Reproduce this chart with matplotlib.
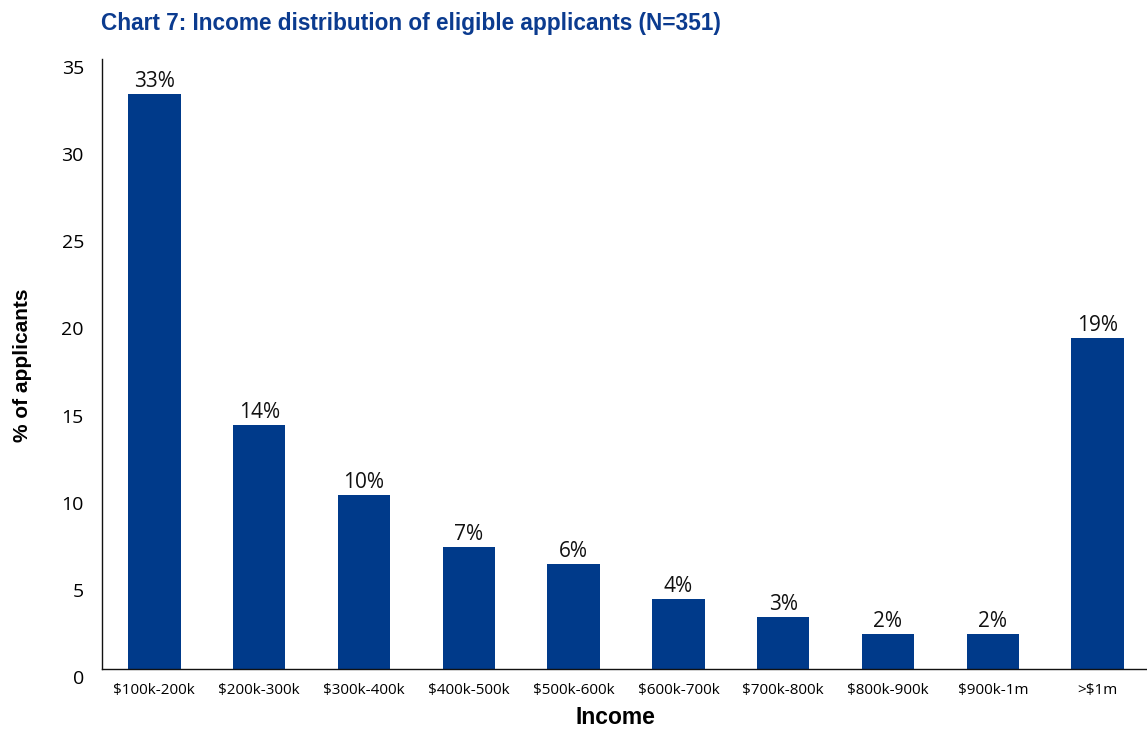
import matplotlib
matplotlib.use("Agg")
import matplotlib.pyplot as plt
from matplotlib.transforms import ScaledTranslation

# Income bands and share of eligible applicants (%)
income_bands = ["$100k-200k", "$200k-300k", "$300k-400k", "$400k-500k", "$500k-600k",
                "$600k-700k", "$700k-800k", "$800k-900k", "$900k-1m", ">$1m"]
pct_applicants = [33, 14, 10, 7, 6, 4, 3, 2, 2, 19]

bar_color = "#003a8a"
title_color = "#0b3b8f"

fig = plt.figure(figsize=(11.47, 7.30), dpi=100)
ax = fig.add_axes([0.0889, 0.0836, 0.9137, 0.8356])

x = range(len(income_bands))
bars = ax.bar(x, pct_applicants, width=0.5, color=bar_color)

# value labels above each bar
for xi, v in zip(x, pct_applicants):
    ax.annotate(f"{v}%", (xi, v), xytext=(0, 1.5), textcoords="offset points",
                ha="center", va="bottom", fontsize=15, family="Open Sans", color="#111111")

ax.set_xlim(-0.5, 9.5)
ax.set_ylim(0, 35)
ax.set_yticks(range(0, 36, 5))
ax.set_xticks(list(x))
ax.set_xticklabels(income_bands, family="Open Sans", fontsize=11)
ax.tick_params(axis="x", length=0, pad=10)
ax.tick_params(axis="y", length=0, pad=13, labelsize=14)
for lab in ax.get_yticklabels():
    lab.set_family("Open Sans")
    lab.set_transform(lab.get_transform() + ScaledTranslation(0, -0.08, fig.dpi_scale_trans))

for side in ["top", "right"]:
    ax.spines[side].set_visible(False)
for side in ["left", "bottom"]:
    ax.spines[side].set_linewidth(1.0)
    ax.spines[side].set_color("#111111")

fig.text(615 / 1147, 1 - 718 / 730, "Income", ha="center", va="center",
         family="Liberation Sans", fontweight="bold", fontsize=16.5)
fig.text(0.0195, 0.50, "% of applicants", rotation=90, ha="center", va="center",
         family="Liberation Sans", fontweight="bold", fontsize=15)

fig.text(0.088, 0.968, "Chart 7: Income distribution of eligible applicants (N=351)",
         ha="left", va="center", family="Liberation Sans", fontweight="bold",
         fontsize=16.3, color=title_color)

plt.savefig("out.png", dpi=100)
